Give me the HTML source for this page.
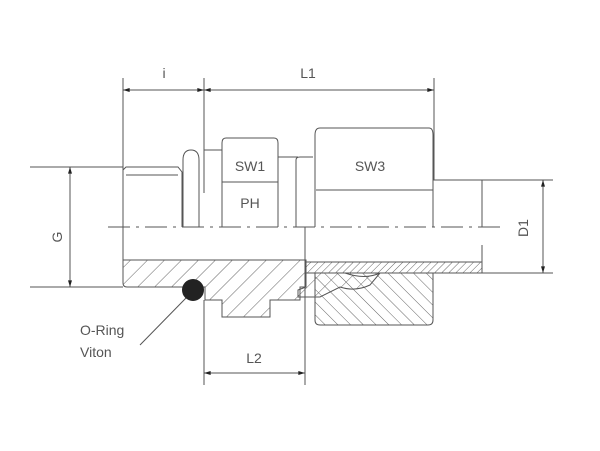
<!DOCTYPE html>
<html><head><style>html,body{margin:0;padding:0;background:#fff}svg{display:block}</style></head>
<body>
<svg width="600" height="451" viewBox="0 0 600 451" xmlns="http://www.w3.org/2000/svg" font-family="Liberation Sans, sans-serif">
<defs>
<pattern id="h1" width="12" height="12" patternUnits="userSpaceOnUse" patternTransform="rotate(45)"><line x1="0" y1="0" x2="0" y2="12" stroke="#666" stroke-width="1"/></pattern>
<pattern id="h2" width="9" height="9" patternUnits="userSpaceOnUse" patternTransform="rotate(-45)"><line x1="0" y1="0" x2="0" y2="9" stroke="#666" stroke-width="1"/></pattern>
<pattern id="h3" width="5" height="5" patternUnits="userSpaceOnUse" patternTransform="rotate(45)"><line x1="0" y1="0" x2="0" y2="5" stroke="#666" stroke-width="1"/></pattern>
<marker id="a" viewBox="0 0 10 6" refX="10" refY="3" markerWidth="10" markerHeight="4" orient="auto-start-reverse" markerUnits="userSpaceOnUse"><path d="M0,0L10,3L0,6z" fill="#222"/></marker>
</defs>
<g stroke="#555" stroke-width="1" fill="none">
<path d="M123,260 H306 V287 H300 V300 H270 V317 H222 V300 H205 V287 H127 Q123,287 123,283 Z" fill="url(#h1)"/>
<path d="M306,262 H482 V273 H306 Z" fill="url(#h3)"/>
<path d="M315,273 H433 V320 Q433,325 428,325 H320 Q315,325 315,320 Z" fill="url(#h2)"/>
<path d="M306,273 H345 Q365,280 380,273 L370,285 Q355,292 340,287 L320,297 H298 L298,290 L306,287 Z" fill="url(#h1)"/>
<path d="M123,227 V170 L126,167 H178 L182,172 V227"/>
<line x1="126" y1="175" x2="178" y2="175"/>
<path d="M183,227 V160 Q183,150 191,150 Q199,150 199,160 V227"/>
<path d="M204,150 H222"/>
<path d="M222,227 V143 Q222,138 226,138 H274 Q278,138 278,143 V227"/>
<line x1="222" y1="182" x2="278" y2="182"/>
<path d="M278,157 H298"/>
<path d="M296,227 V160 Q296,157 300,157 H313"/>
<path d="M315,227 V135 Q315,128 320,128 H429 Q433,128 433,135 V227"/>
<line x1="316" y1="190" x2="433" y2="190"/>
<line x1="433" y1="180" x2="553" y2="180"/>
<line x1="482" y1="180" x2="482" y2="227"/>
<line x1="482" y1="245" x2="482" y2="273"/>
<line x1="482" y1="273" x2="553" y2="273"/>
<line x1="108" y1="227" x2="500" y2="227" stroke-dasharray="22,6,3,6"/>
<line x1="123" y1="78" x2="123" y2="260"/>
<line x1="204" y1="78" x2="204" y2="193"/>
<line x1="434" y1="78" x2="434" y2="180"/>
<line x1="305" y1="227" x2="305" y2="385"/>
<line x1="204" y1="300" x2="204" y2="385"/>
<line x1="30" y1="167" x2="123" y2="167"/>
<line x1="30" y1="287" x2="123" y2="287"/>
<line x1="123" y1="90" x2="204" y2="90" marker-start="url(#a)" marker-end="url(#a)"/>
<line x1="204" y1="90" x2="434" y2="90" marker-start="url(#a)" marker-end="url(#a)"/>
<line x1="70" y1="167" x2="70" y2="287" marker-start="url(#a)" marker-end="url(#a)"/>
<line x1="543" y1="180" x2="543" y2="273" marker-start="url(#a)" marker-end="url(#a)"/>
<line x1="204" y1="373" x2="305" y2="373" marker-start="url(#a)" marker-end="url(#a)"/>
<line x1="140" y1="345" x2="186" y2="298"/>
</g>
<circle cx="193" cy="290" r="11" fill="#222"/>
<g fill="#555" font-size="14">
<text x="164" y="78" text-anchor="middle">i</text>
<text x="308" y="78" text-anchor="middle">L1</text>
<text x="250" y="171" text-anchor="middle">SW1</text>
<text x="250" y="208" text-anchor="middle">PH</text>
<text x="370" y="171" text-anchor="middle">SW3</text>
<text x="254" y="363" text-anchor="middle">L2</text>
<text x="80" y="335">O-Ring</text>
<text x="80" y="357">Viton</text>
<text transform="translate(62,237) rotate(-90)" text-anchor="middle">G</text>
<text transform="translate(528,228) rotate(-90)" text-anchor="middle">D1</text>
</g>
</svg>
</body></html>
